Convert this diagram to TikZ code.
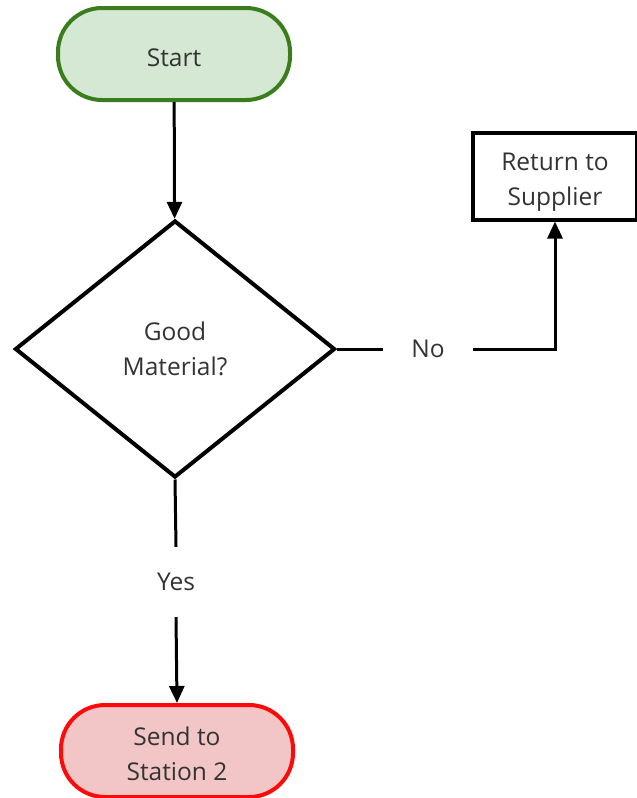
\documentclass[tikz,border=0pt]{standalone}
\usepackage{fontspec}
\setmainfont{Open Sans}
\usetikzlibrary{shapes.geometric,arrows.meta}
\definecolor{txt}{HTML}{333333}
\definecolor{gofill}{HTML}{D5E8D4}
\definecolor{godraw}{HTML}{3A7D1C}
\definecolor{stopfill}{HTML}{F2C6C6}
\definecolor{stopdraw}{HTML}{FF0A0A}
\begin{document}
\begin{tikzpicture}[x=1pt,y=-1pt,
  caption/.style={font=\fontsize{24.5}{35}\selectfont, text=txt, align=center, inner sep=0pt},
  terminal/.style={rectangle, rounded corners=44pt, line width=4pt,
    minimum width=232pt, minimum height=92pt, inner sep=0pt},
  decision/.style={diamond, draw=black, line width=4pt, aspect=1.245,
    minimum width=320pt, minimum height=257pt, inner sep=0pt},
  process/.style={rectangle, draw=black, line width=4pt,
    minimum width=164pt, minimum height=87pt, inner sep=0pt},
  conn/.style={line width=3pt, draw=black},
  arr/.style={conn, -{Triangle[length=17pt,width=15pt]}}
]
\useasboundingbox (0,0) rectangle (637,798);

% shapes
\node[terminal, fill=gofill, draw=godraw] (start) at (174,54) {};
\node[decision] (good) at (175,349) {};
\node[process, fill=white] (ret) at (555,176) {};
\node[terminal, fill=stopfill, draw=stopdraw] (send) at (177,751) {};

% texts inside the shapes
\node[caption] (startT) at ([yshift=-4pt]start.center) {Start};
\node[caption] (goodT) at ([yshift=0pt]good.center) {Good\\Material?};
\node[caption] (retT) at ([yshift=-6pt]ret.center) {Return to\\Supplier};
\node[caption] (sendT) at ([yshift=-3pt]send.center) {Send to\\Station 2};

% connector labels, sized to leave the gaps in their lines
\node[caption, minimum width=90pt] (no) at (428,349) {No};
\node[caption, minimum height=70pt] (yes) at (176,582) {Yes};

\draw[arr] (start) -- (good);
\draw[conn] (good.east) -- (no.west);
\draw[arr] (no.east) -| (ret.south);
\draw[conn] (good.south) -- (yes.north);
\draw[arr] (yes.south) -- (send.north);
\end{tikzpicture}
\end{document}
